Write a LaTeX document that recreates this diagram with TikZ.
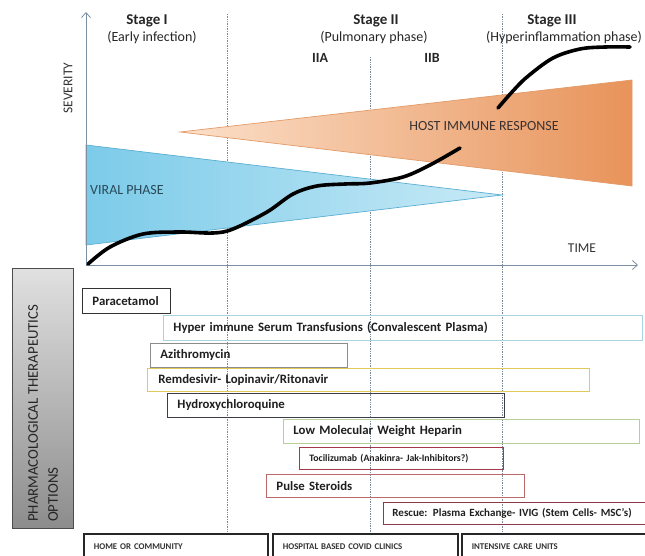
\documentclass[tikz,border=0pt]{standalone}
\usepackage{fontspec}
\setmainfont{Carlito}
\usetikzlibrary{arrows.meta}
\definecolor{axisc}{HTML}{7B8FA3}
\definecolor{dotc}{HTML}{7A8A9A}
\definecolor{blueL}{HTML}{7CCBE9}
\definecolor{blueR}{HTML}{C8EAF6}
\definecolor{blueE}{HTML}{5AAED2}
\definecolor{oraL}{HTML}{FBE0CA}
\definecolor{oraR}{HTML}{E8935A}
\definecolor{oraE}{HTML}{E39A66}
\definecolor{cPara}{HTML}{333333}
\definecolor{cHyper}{HTML}{A9D3DE}
\definecolor{cAzi}{HTML}{8C8C8C}
\definecolor{cRem}{HTML}{E2C95C}
\definecolor{cHcq}{HTML}{3D3D4A}
\definecolor{cLmwh}{HTML}{B5CF95}
\definecolor{cToci}{HTML}{A33A4A}
\definecolor{cPulse}{HTML}{B86A6A}
\definecolor{cResc}{HTML}{8A3A4A}
\definecolor{txtBlue}{HTML}{2A4A5A}
\definecolor{txtDark}{HTML}{3A3232}
\begin{document}
\begin{tikzpicture}[x=1pt,y=-1pt,
  axisline/.style={draw=axisc, line width=0.8pt},
  stageline/.style={draw=dotc, line width=0.7pt, densely dotted},
  stagetitle/.style={font=\fontsize{15}{17}\selectfont\bfseries, text=black!85, inner sep=0pt},
  stagesub/.style={font=\fontsize{14}{16}\selectfont, text=black!85, inner sep=0pt},
  axislabel/.style={font=\fontsize{13.5}{15}\selectfont, text=black!80, inner sep=0pt},
  phaselabel/.style={font=\fontsize{14}{16}\selectfont, inner sep=0pt},
  drugbox/.style={draw, line width=0.9pt, anchor=north west, inner xsep=10pt, inner ysep=0pt,
    align=left, font=\fontsize{12.8}{15}\selectfont\bfseries, text=black!88, minimum height=24pt},
  placebox/.style={draw=black!85, line width=1.6pt, anchor=north west, inner xsep=10pt, inner ysep=0pt,
    align=left, font=\fontsize{8.8}{10}\selectfont\bfseries, text=black!80, minimum height=26pt},
  severity/.style={line width=3.6pt, line cap=round, black}
]
\useasboundingbox (0,0) rectangle (645,555);
\clip (0,0) rectangle (645,555);

% stage separators
\coordinate (s1t) at (227,14); \coordinate (s1b) at (227,533);
\coordinate (s2t) at (370,57); \coordinate (s2b) at (370,533);
\coordinate (s3t) at (502,14); \coordinate (s3b) at (502,533);
\draw[stageline] (s1t) -- (s1b);
\draw[stageline] (s2t) -- (s2b);
\draw[stageline] (s3t) -- (s3b);

% triangles
\path[draw=blueE, line width=0.7pt, left color=blueL, right color=blueR]
  (86,145) -- (502,195) -- (86,245) -- cycle;
\path[draw=oraE, line width=0.7pt, left color=oraL, right color=oraR]
  (180,132) -- (632,80) -- (632,186) -- cycle;

% axes
\coordinate (org) at (86,265);
\coordinate (ytip) at (86,12);
\coordinate (xtip) at (638,265);
\draw[axisline, -{Straight Barb[length=5pt,width=9pt]}] (org) -- (ytip);
\draw[axisline, -{Straight Barb[length=5pt,width=9pt]}] (org) -- (xtip);

% labels top
\node[stagetitle] (st1) at (147,21) {Stage I};
\node[stagesub] (sb1) at (152,38) {(Early infection)};
\node[stagetitle] (st2) at (376,21) {Stage II};
\node[stagesub] (sb2) at (374,38) {(Pulmonary phase)};
\node[stagetitle] (st3) at (552,21) {Stage III};
\node[stagesub] (sb3) at (564,38) {(Hyperinflammation phase)};
\node[stagetitle, font=\fontsize{14}{16}\selectfont\bfseries] (iia) at (320,58) {IIA};
\node[stagetitle, font=\fontsize{14}{16}\selectfont\bfseries] (iib) at (432,58) {IIB};
\node[axislabel, rotate=90] (sev) at (68,88) {SEVERITY};
\node[axislabel] (time) at (582,248) {TIME};
\node[phaselabel, text=txtBlue, anchor=west] (viral) at (90,190) {VIRAL PHASE};
\node[phaselabel, text=txtDark] (host) at (484,126) {HOST IMMUNE RESPONSE};

% severity curve
\draw[severity] plot[smooth, tension=0.55] coordinates {(88,264) (110,247) (143,234) (180,232) (213,233) (233,229) (267,212) (293,194) (317,186) (345,184) (370,183) (403,177) (430,165) (460,148)};
\draw[severity] plot[smooth, tension=0.55] coordinates {(498,108) (512,92) (527,77) (553,58) (580,49) (605,47) (630,47)};

% pharmacological box
\node[draw=black!70, line width=1pt, top color=black!12, bottom color=black!45,
  minimum width=61pt, minimum height=260pt, anchor=north west, inner sep=0pt] (pharmabox) at (12,268) {};
\node[rotate=90, anchor=west, align=left, font=\fontsize{14.8}{20}\selectfont, text=black!85, inner sep=0pt]
  (pharma) at (43,522) {PHARMACOLOGICAL THERAPEUTICS\\OPTIONS};

% drug boxes
\node[drugbox, draw=cPara, text width=68pt, minimum height=25pt] (para) at (82,288) {Paracetamol};
\node[drugbox, draw=cHyper, text width=459pt, minimum height=25pt] (hyper) at (163,315) {Hyper immune Serum Transfusions (Convalescent Plasma)};
\node[drugbox, draw=cAzi, text width=177pt] (azi) at (150,343) {Azithromycin};
\node[drugbox, draw=cRem, text width=420pt, minimum height=23pt, inner xsep=11pt] (rem) at (147,368) {Remdesivir- Lopinavir/Ritonavir};
\node[drugbox, draw=cHcq, text width=317pt] (hcq) at (167,393) {Hydroxychloroquine};
\node[drugbox, draw=cLmwh, text width=336pt] (lmwh) at (283,419) {Low Molecular Weight Heparin};
\node[drugbox, draw=cToci, text width=184pt, minimum height=22pt, font=\fontsize{9.8}{11}\selectfont\bfseries] (toci) at (299,447) {Tocilizumab (Anakinra- Jak-Inhibitors?)};
\node[drugbox, draw=cPulse, text width=238pt, minimum height=23pt] (pulse) at (266,474) {Pulse Steroids};
\node[drugbox, draw=cResc, text width=262pt, minimum height=22pt, inner xsep=9pt, font=\fontsize{11}{13}\selectfont\bfseries] (resc) at (383,502) {Rescue: Plasma Exchange- IVIG (Stem Cells- MSC’s)};

% care settings
\node[placebox, text width=164pt] (home) at (83,533) {HOME OR COMMUNITY};
\node[placebox, text width=165pt] (hosp) at (272,533) {HOSPITAL BASED COVID CLINICS};
\node[placebox, text width=170pt] (icu) at (461,533) {INTENSIVE CARE UNITS};
\end{tikzpicture}
\end{document}
